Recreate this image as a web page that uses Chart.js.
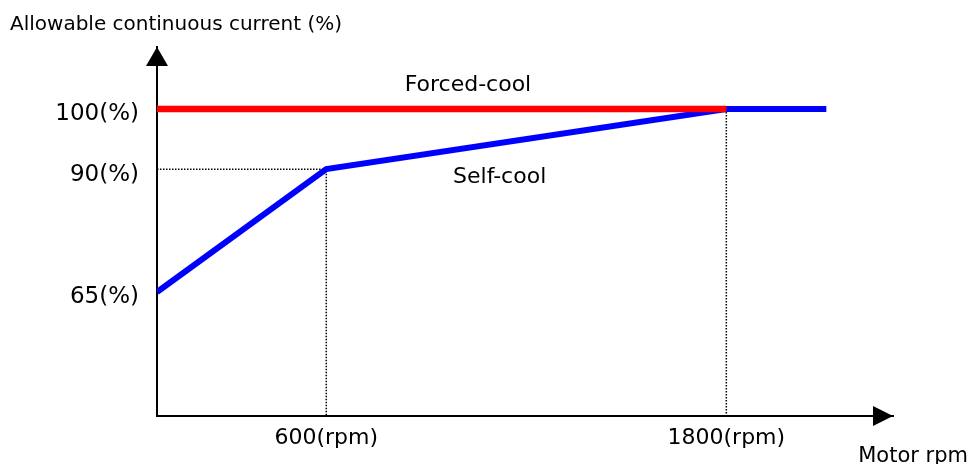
<!DOCTYPE html>
<html>
<head>
<meta charset="utf-8">
<title>Allowable continuous current vs motor rpm</title>
<script src="https://cdn.jsdelivr.net/npm/chart.js@4/dist/chart.umd.min.js"></script>
<style>
    html, body { margin: 0; padding: 0; background: #ffffff; }
    #wrap { width: 971px; height: 464px; }
</style>
</head>
<body>
<div id="wrap"><canvas id="currentChart"></canvas></div>
<script>
// values
const rpmTicks = [600, 1800];
const pctTicks = [65, 90, 100];

const selfCoolRpm = [0, 600, 1800, 2100];
const selfCoolPct = [65, 90, 100, 100];

const forcedCoolRpm = [0, 1800];
const forcedCoolPct = [100, 100];

// dotted helper lines
const guide600Rpm = [0, 600, 600];
const guide600Pct = [90, 90, 0];
const guide1800Rpm = [1800, 1800];
const guide1800Pct = [100, 0];

const curveNames = ['Forced-cool', 'Self-cool'];
const yTitle = 'Allowable continuous current (%)';
const xTitle = 'Motor rpm';

const FONT = '"DejaVu Sans", Verdana, sans-serif';

function toPoints(xs, ys) {
    return xs.map((x, i) => ({ x: x, y: ys[i] }));
}

// The sketch is not drawn to scale, so this linear scale stretches
// each range between its stops by a different amount.
class StretchedScale extends Chart.LinearScale {
    static id = 'stretched';
    static defaults = {};

    toDecimal(v) {
        const values = this.options.stops.values;
        const at = this.options.stops.at;
        if (v <= values[0]) return at[0];
        for (let i = 1; i < values.length; i++) {
            if (v <= values[i]) {
                const t = (v - values[i - 1]) / (values[i] - values[i - 1]);
                return at[i - 1] + t * (at[i] - at[i - 1]);
            }
        }
        return at[at.length - 1];
    }

    getPixelForValue(value) {
        if (value === null || value === undefined || isNaN(value)) return NaN;
        return this.getPixelForDecimal(this.toDecimal(value));
    }

    getValueForPixel(pixel) {
        const d = this.getDecimalForPixel(pixel);
        const values = this.options.stops.values;
        const at = this.options.stops.at;
        for (let i = 1; i < at.length; i++) {
            if (d <= at[i]) {
                const t = (d - at[i - 1]) / (at[i] - at[i - 1]);
                return values[i - 1] + t * (values[i] - values[i - 1]);
            }
        }
        return values[values.length - 1];
    }
}
Chart.register(StretchedScale);

// arrow heads, axis caption on the right, curve names
const sketchDecor = {
    id: 'sketchDecor',
    afterDraw(chart) {
        const { ctx, chartArea: a, scales } = chart;
        const xs = scales.x, ys = scales.y;
        ctx.save();
        ctx.fillStyle = '#000000';

        ctx.beginPath();
        ctx.moveTo(a.left, a.top);
        ctx.lineTo(a.left - 11, a.top + 19);
        ctx.lineTo(a.left + 11, a.top + 19);
        ctx.closePath();
        ctx.fill();

        ctx.beginPath();
        ctx.moveTo(a.right, a.bottom);
        ctx.lineTo(a.right - 20, a.bottom - 10);
        ctx.lineTo(a.right - 20, a.bottom + 10);
        ctx.closePath();
        ctx.fill();

        ctx.textBaseline = 'alphabetic';
        ctx.font = '21px ' + FONT;
        ctx.textAlign = 'right';
        ctx.fillText(xTitle, chart.width - 3, a.bottom + 46);

        ctx.font = '22px ' + FONT;
        ctx.textAlign = 'center';
        const spots = [
            { rpm: 1025, pct: 100, dy: -18 },
            { rpm: 1120, pct: 90, dy: 14 }
        ];
        spots.forEach((s, i) => {
            ctx.fillText(curveNames[i], xs.getPixelForValue(s.rpm), ys.getPixelForValue(s.pct) + s.dy);
        });
        ctx.restore();
    }
};

const ctx = document.getElementById('currentChart');
new Chart(ctx, {
    type: 'line',
    data: {
        datasets: [{
            label: curveNames[0],
            data: toPoints(forcedCoolRpm, forcedCoolPct),
            borderColor: '#ff0000',
            borderWidth: 6.5,
            pointRadius: 0,
            tension: 0
        }, {
            label: curveNames[1],
            data: toPoints(selfCoolRpm, selfCoolPct),
            borderColor: '#0000ff',
            borderWidth: 6,
            pointRadius: 0,
            tension: 0
        }, {
            label: 'guide 600',
            data: toPoints(guide600Rpm, guide600Pct),
            borderColor: '#000000',
            borderWidth: 1.5,
            borderDash: [1.5, 1.5],
            pointRadius: 0,
            tension: 0
        }, {
            label: 'guide 1800',
            data: toPoints(guide1800Rpm, guide1800Pct),
            borderColor: '#000000',
            borderWidth: 1.5,
            borderDash: [1.5, 1.5],
            pointRadius: 0,
            tension: 0
        }]
    },
    options: {
        responsive: true,
        maintainAspectRatio: false,
        animation: false,
        layout: { padding: { left: 10, right: 78, top: 0, bottom: 0 } },
        plugins: {
            legend: { display: false },
            tooltip: { enabled: false },
            title: {
                display: true,
                text: yTitle,
                align: 'start',
                color: '#000000',
                font: { family: FONT, size: 20, weight: 'normal' },
                padding: { top: 13, bottom: 10 }
            }
        },
        scales: {
            x: {
                type: 'stretched',
                min: 0,
                max: 2300,
                stops: { values: [0, 600, 2300], at: [0, 0.23, 1] },
                afterBuildTicks: s => { s.ticks = rpmTicks.map(v => ({ value: v })); },
                afterFit: s => { s.height = 48; },
                grid: { display: false, drawTicks: false },
                border: { display: true, color: '#000000', width: 2 },
                ticks: {
                    autoSkip: false,
                    maxRotation: 0,
                    padding: 9,
                    color: '#000000',
                    font: { family: FONT, size: 22 },
                    callback: v => v + '(rpm)'
                }
            },
            y: {
                type: 'stretched',
                min: 0,
                max: 110,
                stops: { values: [0, 65, 90, 100, 110], at: [0, 0.336, 0.669, 0.832, 1] },
                afterBuildTicks: s => { s.ticks = pctTicks.map(v => ({ value: v })); },
                afterFit: s => { s.width = 147; },
                grid: { display: false, drawTicks: false },
                border: { display: true, color: '#000000', width: 2 },
                ticks: {
                    autoSkip: false,
                    padding: 18,
                    labelOffset: 5.5,
                    color: '#000000',
                    font: { family: FONT, size: 23 },
                    callback: v => v + '(%)'
                }
            }
        }
    },
    plugins: [sketchDecor]
});
</script>
</body>
</html>
